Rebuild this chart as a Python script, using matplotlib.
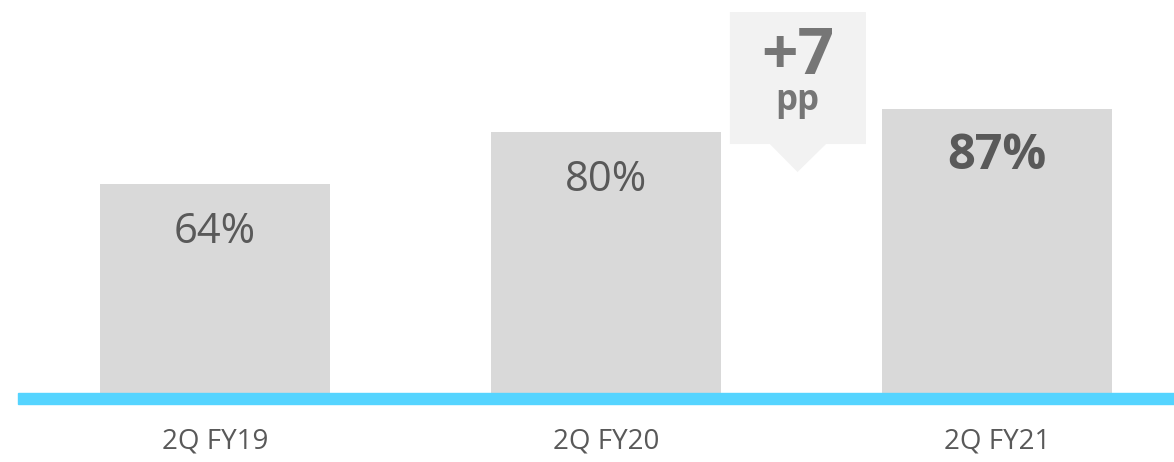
import matplotlib
matplotlib.use("Agg")
import matplotlib.pyplot as plt
from matplotlib.patches import Polygon

# Quarterly values (percent)
quarters = ["2Q FY19", "2Q FY20", "2Q FY21"]
values = [64, 80, 87]
change_label = "+7"
change_unit = "pp"

bar_color = "#d9d9d9"
text_color = "#595959"
callout_bg = "#f2f2f2"
callout_text = "#767676"
base_color = "#55d4ff"

plt.rcParams["font.family"] = ["Open Sans", "DejaVu Sans"]

fig = plt.figure(figsize=(11.74, 4.62), dpi=100)
ax = fig.add_axes([0, 0, 1, 1])
ax.set_xlim(-0.55, 2.453)
ax.set_ylim(-21.2, 120.6)
ax.axis("off")

x = list(range(len(values)))
ax.bar(x, values, width=0.588, color=bar_color, zorder=1)

# blue baseline under the bars
ax.axhspan(-3.4, 0, xmin=18 / 1174, xmax=1, color=base_color, zorder=2)

for i, (q, v) in enumerate(zip(quarters, values)):
    last = i == len(values) - 1
    ax.text(i, v - 14.5, f"{v}%", ha="center", va="center",
            fontsize=35 if last else 30,
            fontweight="bold" if last else "normal",
            color=text_color)
    ax.text(i, -14.8, q, ha="center", va="center", fontsize=20, color=text_color)

# callout box with pointer between the last two bars
cx = 1.49
box = Polygon([(1.317, 116.9), (1.665, 116.9), (1.665, 76.4), (1.563, 76.4),
               (cx, 67.8), (1.419, 76.4), (1.317, 76.4)],
              closed=True, facecolor=callout_bg, edgecolor="none", zorder=3)
ax.add_patch(box)
ax.text(cx, 97.8, change_label, ha="center", va="baseline", fontsize=46,
        fontweight="bold", color=callout_text, zorder=4)
ax.text(cx, 86.8, change_unit, ha="center", va="baseline", fontsize=25,
        fontweight="bold", color=callout_text, zorder=4)

fig.savefig("out.png", dpi=100)
